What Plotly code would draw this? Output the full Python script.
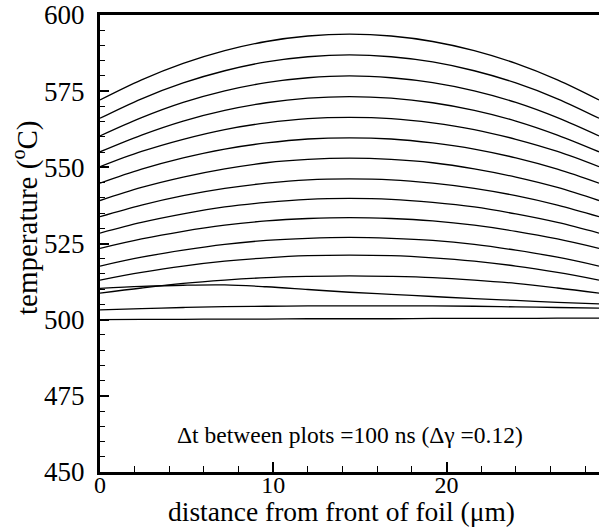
import plotly.graph_objects as go

# distance from front of foil (um)
x_um = [0, 2.4, 4.8, 7.2, 9.6, 12.0, 14.4, 16.8, 19.2, 21.6, 24.0, 26.4, 28.8]

# temperature profiles (deg C), one per plotted time step
T01 = [572.1, 578.7, 584.1, 588.3, 591.3, 593.1, 593.7, 593.1, 591.3, 588.3, 584.1, 578.7, 572.1]
T02 = [566.1, 572.5, 577.7, 581.7, 584.6, 586.3, 586.9, 586.3, 584.6, 581.7, 577.7, 572.5, 566.1]
T03 = [560.3, 566.3, 571.3, 575.1, 577.8, 579.4, 580.0, 579.4, 577.8, 575.1, 571.3, 566.3, 560.3]
T04 = [555.1, 560.6, 565.2, 568.7, 571.2, 572.7, 573.2, 572.7, 571.2, 568.7, 565.2, 560.6, 555.1]
T05 = [550.2, 555.2, 559.2, 562.4, 564.6, 566.0, 566.4, 566.0, 564.6, 562.4, 559.2, 555.2, 550.2]
T06 = [544.8, 549.4, 553.1, 556.0, 558.0, 559.3, 559.7, 559.3, 558.0, 556.0, 553.1, 549.4, 544.8]
T07 = [539.1, 543.4, 546.8, 549.5, 551.5, 552.6, 553.0, 552.6, 551.5, 549.5, 546.8, 543.4, 539.1]
T08 = [533.8, 537.6, 540.7, 543.1, 544.8, 545.9, 546.2, 545.9, 544.8, 543.1, 540.7, 537.6, 533.8]
T09 = [528.4, 531.9, 534.7, 537.0, 538.5, 539.5, 539.8, 539.5, 538.5, 537.0, 534.7, 531.9, 528.4]
T10 = [523.4, 526.5, 529.0, 531.0, 532.4, 533.2, 533.5, 533.2, 532.4, 531.0, 529.0, 526.5, 523.4]
T11 = [517.6, 520.5, 522.8, 524.7, 526.0, 526.7, 527.0, 526.7, 526.0, 524.7, 522.8, 520.5, 517.6]
T12 = [513.0, 515.5, 517.6, 519.2, 520.3, 521.0, 521.2, 521.0, 520.3, 519.2, 517.6, 515.5, 513.0]
T13 = [508.7, 510.4, 511.9, 513.0, 513.8, 514.2, 514.4, 514.2, 513.8, 513.0, 511.9, 510.4, 508.7]
T14 = [510.3, 510.9, 511.3, 511.4, 510.8, 509.9, 509.0, 508.3, 507.6, 506.9, 506.3, 505.7, 505.2]
T15 = [503.2, 503.6, 504.0, 504.3, 504.4, 504.5, 504.5, 504.5, 504.5, 504.4, 504.2, 504.0, 503.8]
T16 = [500.0, 500.1, 500.1, 500.2, 500.2, 500.3, 500.3, 500.3, 500.4, 500.4, 500.4, 500.5, 500.5]

profiles = [T01, T02, T03, T04, T05, T06, T07, T08, T09, T10,
            T11, T12, T13, T14, T15, T16]

y_ticks = [450, 475, 500, 525, 550, 575, 600]
x_ticks = [0, 10, 20]

FONT = "'Liberation Serif', 'Times New Roman', Times, serif"

fig = go.Figure()
for T in profiles:
    fig.add_trace(go.Scatter(x=x_um, y=T, mode="lines",
                             line=dict(color="black", width=1.3, shape="spline"),
                             showlegend=False, hoverinfo="skip"))

fig.update_layout(
    width=599, height=529,
    margin=dict(l=100, r=0, t=15, b=57),
    plot_bgcolor="white", paper_bgcolor="white",
    font=dict(family=FONT, color="black"),
    xaxis=dict(
        range=[0, 28.8], tickvals=x_ticks, ticktext=[str(v) for v in x_ticks],
        showgrid=False, zeroline=False,
        showline=True, linecolor="black", linewidth=3, mirror=True,
        ticks="inside", ticklen=10, tickwidth=2, tickcolor="black",
        minor=dict(dtick=2, ticks="inside", ticklen=6, tickwidth=1, tickcolor="black", showgrid=False),
        tickfont=dict(family=FONT, size=24),
        ticklabelstandoff=-11,
    ),
    yaxis=dict(
        range=[450, 600], tickvals=y_ticks, ticktext=[str(v) for v in y_ticks],
        showgrid=False, zeroline=False,
        showline=True, linecolor="black", linewidth=3,
        ticks="inside", ticklen=9, tickwidth=2, tickcolor="black",
        minor=dict(dtick=5, ticks="inside", ticklen=5, tickwidth=1, tickcolor="black", showgrid=False),
        tickfont=dict(family=FONT, size=27),
        ticklabelstandoff=7,
    ),
    annotations=[
        dict(x=0.5, y=462, xref="paper", yref="y",
             text="\u0394t between plots =100 ns (\u0394\u03b3 =0.12)",
             showarrow=False, font=dict(family=FONT, size=23.5, color="black"),
             xanchor="center", yanchor="middle"),
        dict(x=(341 - 100) / 499, y=-(511 - 472) / 457, xref="paper", yref="paper",
             text="distance from front of foil (\u03bcm)",
             showarrow=False, font=dict(family=FONT, size=27.5, color="black"),
             xanchor="center", yanchor="middle", borderpad=0),
        dict(x=-(100 - 26) / 499, y=(472 - 218) / 457, xref="paper", yref="paper",
             text="temperature (<sup>o</sup>C)", textangle=-90,
             showarrow=False, font=dict(family=FONT, size=29, color="black"),
             xanchor="center", yanchor="middle"),
    ],
)

fig.write_html("out.html")
